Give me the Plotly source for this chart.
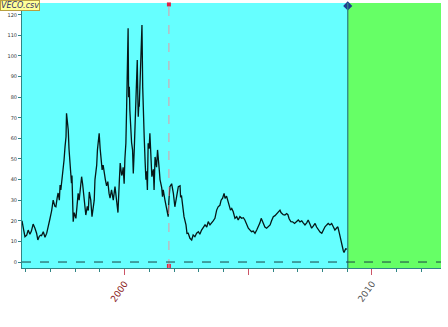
import plotly.graph_objects as go

# ---- data (decimal years, price) ----
years = [1995.85, 1995.88, 1995.93, 1995.97, 1996.04, 1996.10, 1996.17, 1996.23, 1996.30, 1996.37,
         1996.44, 1996.49, 1996.55, 1996.60, 1996.64, 1996.71, 1996.78, 1996.85, 1996.91, 1996.98,
         1997.05, 1997.11, 1997.18, 1997.22, 1997.27, 1997.31, 1997.36, 1997.39, 1997.42, 1997.48,
         1997.52, 1997.55, 1997.59, 1997.63, 1997.65, 1997.70, 1997.72, 1997.75, 1997.79, 1997.82,
         1997.85, 1997.87, 1997.90, 1997.92, 1997.96, 1997.99, 1998.03, 1998.08, 1998.12, 1998.16,
         1998.22, 1998.26, 1998.30, 1998.35, 1998.39, 1998.43, 1998.49, 1998.53, 1998.57, 1998.63,
         1998.68, 1998.73, 1998.77, 1998.80, 1998.87, 1998.90, 1998.93, 1998.97, 1999.01, 1999.05,
         1999.09, 1999.13, 1999.18, 1999.22, 1999.27, 1999.32, 1999.37, 1999.41, 1999.47, 1999.54,
         1999.61, 1999.68, 1999.73, 1999.78, 1999.82, 1999.88, 1999.91, 1999.94, 1999.98, 2000.01,
         2000.05, 2000.08, 2000.12, 2000.14, 2000.16, 2000.19, 2000.21, 2000.24, 2000.28, 2000.32,
         2000.35, 2000.39, 2000.42, 2000.44, 2000.49, 2000.51, 2000.53, 2000.55, 2000.57, 2000.59,
         2000.62, 2000.66, 2000.70, 2000.73, 2000.75, 2000.79, 2000.83, 2000.86, 2000.89, 2000.92,
         2000.95, 2000.99, 2001.02, 2001.05, 2001.10, 2001.16, 2001.19, 2001.23, 2001.29, 2001.33,
         2001.36, 2001.40, 2001.43, 2001.50, 2001.53, 2001.56, 2001.63, 2001.70, 2001.76, 2001.79,
         2001.83, 2001.90, 2001.97, 2002.03, 2002.10, 2002.17, 2002.24, 2002.26, 2002.30, 2002.35,
         2002.40, 2002.48, 2002.52, 2002.57, 2002.64, 2002.71, 2002.77, 2002.84, 2002.91, 2002.98,
         2003.04, 2003.11, 2003.18, 2003.25, 2003.32, 2003.38, 2003.45, 2003.51, 2003.58, 2003.65,
         2003.72, 2003.78, 2003.85, 2003.90, 2003.96, 2004.02, 2004.06, 2004.12, 2004.17, 2004.23,
         2004.28, 2004.33, 2004.39, 2004.46, 2004.53, 2004.59, 2004.66, 2004.73, 2004.80, 2004.86,
         2004.93, 2005.00, 2005.07, 2005.13, 2005.20, 2005.27, 2005.34, 2005.40, 2005.47, 2005.52,
         2005.58, 2005.63, 2005.67, 2005.74, 2005.81, 2005.88, 2005.94, 2006.01, 2006.08, 2006.15,
         2006.21, 2006.28, 2006.32, 2006.36, 2006.41, 2006.48, 2006.55, 2006.60, 2006.65, 2006.72,
         2006.79, 2006.87, 2006.95, 2007.02, 2007.09, 2007.16, 2007.22, 2007.29, 2007.36, 2007.42,
         2007.49, 2007.56, 2007.63, 2007.70, 2007.76, 2007.83, 2007.90, 2007.97, 2008.03, 2008.10,
         2008.17, 2008.23, 2008.30, 2008.37, 2008.44, 2008.50, 2008.57, 2008.62, 2008.68, 2008.72,
         2008.77, 2008.81, 2008.84, 2008.87, 2008.91, 2008.94, 2008.97, 2009.01]
prices = [20.0, 17.0, 14.7, 12.3, 13.0, 15.5, 13.5, 15.0, 18.4, 16.5,
          14.0, 10.7, 12.5, 13.0, 12.8, 14.7, 12.0, 14.0, 18.0, 21.0,
          25.0, 30.0, 27.0, 26.8, 31.0, 33.5, 30.0, 37.4, 35.0, 41.4,
          45.0, 49.5, 56.0, 60.8, 72.2, 66.0, 64.0, 55.0, 49.5, 44.0,
          38.2, 42.0, 30.0, 19.6, 24.0, 22.8, 21.2, 28.0, 33.3, 30.0,
          36.0, 41.4, 38.0, 32.0, 26.8, 22.8, 27.0, 25.0, 34.0, 30.0,
          22.0, 26.0, 30.0, 40.0, 47.0, 54.4, 58.0, 62.5, 55.0, 49.0,
          44.7, 47.0, 42.0, 40.0, 37.0, 39.0, 33.3, 31.0, 35.0, 30.0,
          36.6, 30.0, 24.0, 38.0, 48.0, 42.0, 43.0, 46.0, 38.0, 50.0,
          57.6, 75.0, 95.0, 113.4, 80.0, 85.0, 73.8, 62.5, 58.0, 54.4,
          43.0, 55.0, 69.0, 77.0, 88.0, 98.0, 82.0, 70.5, 76.0, 75.4,
          90.0, 101.0, 115.0, 85.0, 70.5, 60.8, 48.0, 40.0, 44.0, 35.0,
          57.6, 55.0, 62.5, 53.0, 41.4, 45.0, 35.0, 51.0, 46.0, 54.4,
          48.0, 44.7, 40.0, 36.0, 31.7, 35.0, 30.0, 25.0, 22.0, 30.0,
          36.6, 38.0, 33.3, 26.8, 31.7, 36.6, 37.0, 31.7, 32.0, 27.7,
          22.0, 18.0, 13.9, 14.0, 11.5, 10.7, 13.1, 12.3, 14.0, 14.7,
          13.5, 15.5, 16.5, 18.0, 17.0, 19.6, 18.0, 18.7, 20.0, 21.2,
          25.2, 26.8, 27.5, 30.0, 31.0, 33.3, 30.9, 32.0, 30.0, 27.0,
          25.2, 26.0, 24.4, 21.2, 22.0, 20.4, 22.0, 21.2, 21.5, 20.4,
          18.0, 16.4, 15.5, 14.7, 15.0, 13.9, 15.5, 17.1, 19.0, 21.2,
          19.5, 18.0, 17.0, 16.4, 17.0, 18.0, 20.0, 22.0, 22.5, 23.6,
          24.0, 25.2, 24.0, 23.6, 23.0, 22.8, 23.5, 23.0, 21.0, 19.6,
          19.5, 18.7, 19.5, 20.4, 19.5, 20.0, 19.0, 18.0, 19.0, 20.4,
          18.5, 16.4, 17.5, 18.7, 17.0, 15.5, 14.5, 13.9, 15.5, 17.1,
          18.0, 18.7, 18.0, 18.7, 17.0, 15.5, 16.5, 17.1, 14.0, 11.5,
          9.0, 6.6, 5.5, 4.6, 6.5, 6.6, 6.0]

event_x = [2001.79]          # red dashed marker line
split_x = [2009.02]          # start of green (forecast) region
x_range = [1995.85, 2012.79]
y_range = [-2.9, 125.7]
y_ticks = list(range(0, 130, 10))
x_ticks = [2000, 2005, 2010]
x_ticktext = ["<span style='color:#8b1a1a'>2000</span>", "",
              "<span style='color:#555555'>2010</span>"]

CYAN = "#66ffff"
GREEN = "#66ff66"
AXIS = "#2f8585"

fig = go.Figure()

fig.add_trace(go.Scatter(x=years, y=prices, mode="lines",
                         line=dict(color="#061818", width=1.3), showlegend=False,
                         hoverinfo="skip"))

# event markers (top & bottom)
fig.add_trace(go.Scatter(x=event_x * 2, y=[125.0, -1.9], mode="markers",
                         marker=dict(color="#dd2244", size=4, symbol="square"),
                         cliponaxis=False, showlegend=False))
# split diamond
fig.add_trace(go.Scatter(x=split_x, y=[124.3], mode="markers",
                         marker=dict(color="#1f3c8c", size=7, symbol="diamond"),
                         cliponaxis=False, showlegend=False))

shapes = [
    dict(type="rect", xref="x", yref="paper", x0=split_x[0], x1=x_range[1], y0=0, y1=1,
         fillcolor=GREEN, line=dict(width=0), layer="below"),
    dict(type="line", xref="x", yref="paper", x0=split_x[0], x1=split_x[0], y0=0, y1=1,
         line=dict(color=AXIS, width=1.3), layer="above"),
    dict(type="line", xref="x", yref="paper", x0=event_x[0], x1=event_x[0], y0=0, y1=1,
         line=dict(color="#e69aa5", width=1, dash="dash"), layer="above"),
    dict(type="line", xref="paper", yref="y", x0=0, x1=1, y0=0, y1=0,
         line=dict(color="#1a4545", width=1, dash="dash"), layer="above"),
]

fig.update_layout(
    width=448, height=327,
    margin=dict(l=22, r=7, t=3, b=59),
    paper_bgcolor="white", plot_bgcolor=CYAN,
    shapes=shapes,
    showlegend=False,
    xaxis=dict(range=x_range, showgrid=False, zeroline=False,
               showline=True, linecolor=AXIS, linewidth=1,
               tickmode="array", tickvals=x_ticks, ticktext=x_ticktext,
               ticks="outside", ticklen=6, tickcolor="#cc5566", tickwidth=1,
               tickangle=-55, tickfont=dict(size=9, family="DejaVu Sans"),
               minor=dict(tickmode="linear", tick0=1996, dtick=1, ticks="outside",
                          ticklen=3, tickcolor=AXIS, showgrid=False)),
    yaxis=dict(range=y_range, showgrid=False, zeroline=False,
               showline=True, linecolor=AXIS, linewidth=1,
               tickmode="array", tickvals=y_ticks,
               ticks="outside", ticklen=3, tickcolor=AXIS,
               tickfont=dict(size=5, color="#333333", family="DejaVu Sans")),
    annotations=[dict(text="<i>VECO.csv</i>", xref="paper", yref="paper",
                      x=-22 / 419, y=1 + 3 / 265, xanchor="left", yanchor="top",
                      showarrow=False, bgcolor="#ffff99", bordercolor="#b8a040",
                      borderwidth=1, borderpad=0,
                      font=dict(size=8, color="#333366", family="DejaVu Sans"))],
)

fig.write_html("out.html")
